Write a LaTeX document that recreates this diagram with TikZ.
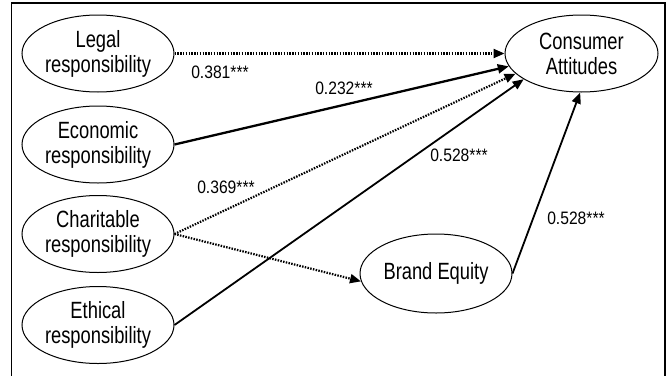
\documentclass[tikz,border=0pt]{standalone}
\usepackage{fontspec}
\setmainfont{Liberation Sans}[FakeStretch=0.78]
\newfontfamily\labfont{Liberation Sans}[FakeStretch=0.87]
\usetikzlibrary{shapes.geometric,arrows.meta}
\begin{document}
\begin{tikzpicture}[x=1pt,y=-1pt,
 ell/.style={draw, ellipse, line width=1pt, minimum width=152pt, minimum height=77pt, inner sep=0pt, align=center, font=\fontsize{23.5}{25}\selectfont},
 lab/.style={font=\labfont\fontsize{18}{20}\selectfont, inner sep=0pt},
 solidarrow/.style={line width=1.8pt, -{Triangle[length=11pt,width=9pt]}},
 dotarrow/.style={line width=2.2pt, dash pattern=on 1.5pt off 1.3pt, -{Triangle[length=11pt,width=9pt]}},
]
\useasboundingbox (0,0) rectangle (671,375);
\draw[line width=1.5pt] (11.5,380) -- (11.5,3) -- (665,3) -- (665,380);

\node[ell] (legal) at (98,53.5) {Legal\\responsibility};
\node[ell] (econ) at (98,144.5) {Economic\\responsibility};
\node[ell] (char) at (98,234) {Charitable\\responsibility};
\node[ell] (eth) at (98,325) {Ethical\\responsibility};
\node[ell, minimum width=153pt] (cons) at (581.5,53.5) {Consumer\\Attitudes};
\node[ell, minimum height=79pt] (brand) at (436,273.5) {Brand Equity};

\draw[dotarrow] (legal.east) -- (cons.180);
\draw[solidarrow, line width=2.3pt] (econ.east) -- (cons.190);
\draw[dotarrow] (char.east) -- (cons.197);
\draw[dotarrow] (char.east) -- (brand.186);
\draw[solidarrow] (eth.east) -- (cons.204);
\draw[solidarrow] (brand.east) -- (cons.268);

\node[lab] (l1) at (220,72) {0.381***};
\node[lab] (l2) at (344,88) {0.232***};
\node[lab] (l3) at (226,187) {0.369***};
\node[lab] (l4) at (459,155) {0.528***};
\node[lab] (l5) at (576,218) {0.528***};
\end{tikzpicture}
\end{document}
